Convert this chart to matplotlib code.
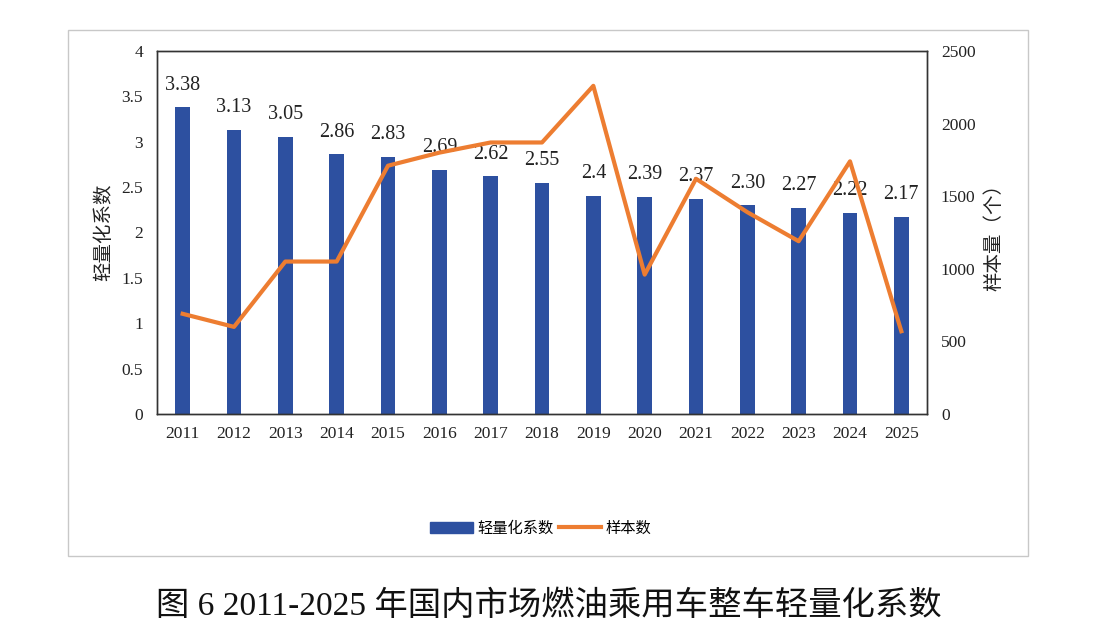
import matplotlib
matplotlib.use("Agg")
import matplotlib.pyplot as plt
from matplotlib.patches import Rectangle
from matplotlib.lines import Line2D
from matplotlib.patches import Patch

years = ["2011", "2012", "2013", "2014", "2015", "2016", "2017", "2018",
         "2019", "2020", "2021", "2022", "2023", "2024", "2025"]
coef = [3.38, 3.13, 3.05, 2.86, 2.83, 2.69, 2.62, 2.55, 2.40, 2.39, 2.37, 2.30, 2.27, 2.22, 2.17]
coef_labels = ["3.38", "3.13", "3.05", "2.86", "2.83", "2.69", "2.62", "2.55", "2.4", "2.39",
               "2.37", "2.30", "2.27", "2.22", "2.17"]
samples = [690, 600, 1050, 1050, 1710, 1800, 1870, 1870, 2260, 960, 1620, 1390, 1190, 1740, 570]
left_ticks = [0, 0.5, 1, 1.5, 2, 2.5, 3, 3.5, 4]
left_tick_labels = ["0", "0.5", "1", "1.5", "2", "2.5", "3", "3.5", "4"]
right_ticks = [0, 500, 1000, 1500, 2000, 2500]

SERIF = ["Liberation Serif", "Noto Sans CJK SC"]
CJK = ["Noto Sans CJK SC", "DejaVu Sans"]
BLUE = "#2D50A0"
ORANGE = "#ED7D31"

fig = plt.figure(figsize=(11, 6.41), dpi=100)
fig.patch.set_facecolor("white")

# outer chart frame
fig.patches.append(Rectangle((68 / 1100, 1 - 556 / 641), (1028 - 68) / 1100, (556 - 30) / 641,
                             transform=fig.transFigure, fill=False, edgecolor="#C8C8C8", lw=1.0))

ax = fig.add_axes([157 / 1100, 1 - 414 / 641, (927 - 157) / 1100, (414 - 51) / 641])
x = list(range(len(years)))
ax.bar(x, coef, width=0.29, color=BLUE, zorder=2)
ax.set_xlim(-0.5, len(years) - 0.5)
ax.set_ylim(0, 4)
ax.set_yticks(left_ticks)
ax.set_yticklabels(left_tick_labels, fontfamily=SERIF, fontsize=12.5, color="#222222")
ax.set_xticks(x)
ax.set_xticklabels(years, fontfamily=SERIF, fontsize=12.5, color="#222222")
ax.tick_params(axis="y", length=0, pad=10)
ax.tick_params(axis="x", length=0, pad=9)
for s in ax.spines.values():
    s.set_color("#333333")
    s.set_linewidth(1.0)
ax.set_ylabel("轻量化系数", fontfamily=CJK, fontsize=14, labelpad=5, color="#222222")

for xi, v, lab in zip(x, coef, coef_labels):
    ax.annotate(lab, (xi, v), xytext=(0, 16), textcoords="offset points",
                ha="center", va="center", fontfamily=SERIF, fontsize=14.5, color="#222222", zorder=4)

ax2 = ax.twinx()
ax2.plot(x, samples, color=ORANGE, lw=3, zorder=3)
ax2.set_ylim(0, 2500)
ax2.set_yticks(right_ticks)
ax2.set_yticklabels([str(t) for t in right_ticks], fontfamily=SERIF, fontsize=12.5, color="#222222")
ax2.tick_params(length=0, pad=10)
for s in ax2.spines.values():
    s.set_color("#333333")
    s.set_linewidth(1.0)
ax2.set_ylabel("样本量（个）", fontfamily=CJK, fontsize=14, labelpad=6, color="#222222")

handles = [Patch(facecolor=BLUE, edgecolor=BLUE), Line2D([0], [0], color=ORANGE, lw=3)]
fig.legend(handles, ["轻量化系数", "样本数"], loc="center", bbox_to_anchor=(541 / 1100, 1 - 528 / 641),
           ncol=2, frameon=False, prop={"family": CJK, "size": 11}, handlelength=2.8,
           columnspacing=0.3, handletextpad=0.3)

fig.text(549 / 1100, 1 - 606 / 641, "图 6 2011-2025 年国内市场燃油乘用车整车轻量化系数",
         ha="center", va="center", fontfamily=SERIF, fontsize=24, color="#111111")

fig.savefig("out.png", dpi=100, facecolor="white")
